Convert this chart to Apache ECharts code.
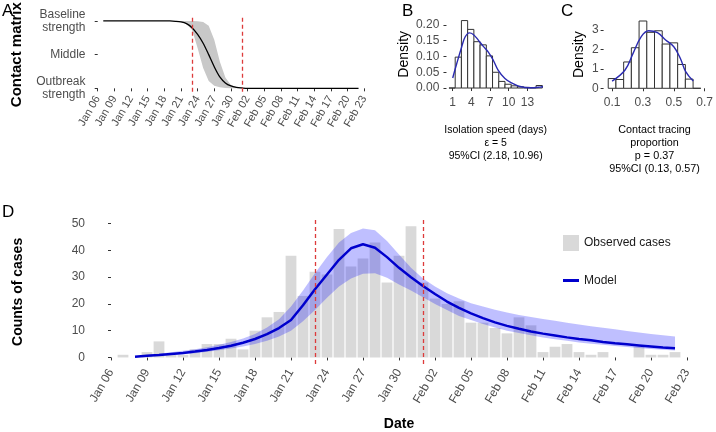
<!DOCTYPE html>
<html><head><meta charset="utf-8">
<script src="https://cdn.jsdelivr.net/npm/echarts@6/dist/echarts.min.js"></script>
<style>html,body{margin:0;padding:0;background:#fff}#c{width:716px;height:432px}</style>
</head><body><div id="c"></div>
<script>
// ---------- data ----------
const tickDates = ['Jan 06','Jan 09','Jan 12','Jan 15','Jan 18','Jan 21','Jan 24','Jan 27','Jan 30','Feb 02','Feb 05','Feb 08','Feb 11','Feb 14','Feb 17','Feb 20','Feb 23'];
const contactLevels = ['Outbreak\nstrength', 'Middle', 'Baseline\nstrength'];
// Panel A: contact matrix per day (day 1 = Jan 07 ... day 47 = Feb 22)
const contactMid = [1,1,1,1,1,1,1,1,1,1,1,1,1,0.995,0.985,0.96,0.9,0.8,0.67,0.5,0.32,0.17,0.08,0.035,0.015,0.006,0,0,0,0,0,0,0,0,0,0,0,0,0,0,0,0,0,0,0,0,0];
const contactLo  = [1,1,1,1,1,1,1,1,1,1,1,1,1,1,0.99,0.95,0.87,0.6,0.3,0.11,0.04,0.015,0.005,0,0,0,0,0,0,0,0,0,0,0,0,0,0,0,0,0,0,0,0,0,0,0,0];
const contactHi  = [1,1,1,1,1,1,1,1,1,1,1,1,1,1,1,1,1,0.995,0.985,0.93,0.72,0.4,0.16,0.05,0.02,0.005,0,0,0,0,0,0,0,0,0,0,0,0,0,0,0,0,0,0,0,0,0];
const interventionDays = [17, 26]; // Jan 23, Feb 01
// Panel B: isolation speed histogram
const isoEdges = [0.4,1.4,2.4,3.4,4.4,5.4,6.4,7.4,8.4,9.4,10.4,11.4,12.4,13.4,14.4,15.4];
const isoDensity = [0,0.098,0.214,0.186,0.147,0.137,0.102,0.05,0.021,0.012,0.007,0.004,0.002,0.001,0.008];
const isoCurveX = [1.0,1.64,2.44,2.97,3.67,4.31,5.11,5.92,6.72,7.52,8.32,9.39,10.47,11.8,13.4,15.0,15.5];
const isoCurveY = [0.032,0.077,0.13,0.161,0.175,0.17,0.152,0.132,0.114,0.088,0.056,0.03,0.016,0.005,0.001,0.003,0.005];
// Panel C: contact tracing proportion histogram
const ctEdges = [0.075,0.125,0.175,0.225,0.275,0.325,0.375,0.425,0.475,0.525,0.575,0.625,0.675];
const ctDensity = [0.5,0.45,1.35,2.08,3.45,2.87,2.95,2.27,2.33,1.22,0.47,0];
const ctCurveX = [0.1,0.184,0.236,0.289,0.337,0.394,0.447,0.5,0.542,0.577,0.626];
const ctCurveY = [0.37,0.94,1.79,2.65,2.95,2.85,2.48,2.13,1.54,0.85,0.37];
// Panel D: observed cases, day 1 (Jan 07) ... day 47 (Feb 22)
const observedCases = [1,0,2,6,1,1,3,5,5,7,3,10,15,17,38,23,32,31,48,34,37,43,28,38,49,28,22,20,21,13,13,11,9,15,12,2,4,5,2,1,2,0,0,4,1,1,2];
// Model, day 2 (Jan 08) ... day 47 (Feb 22)
const modelMid = [0.3,0.6,0.9,1.3,1.7,2.2,2.8,3.5,4.4,5.5,6.9,8.7,11.0,14.0,19.5,25.5,31.0,36.5,40.8,42.3,41.0,37.5,33.5,30.0,26.7,23.7,20.9,18.5,16.5,14.7,13.1,11.8,10.7,9.7,8.9,8.2,7.5,6.9,6.4,5.8,5.3,4.9,4.5,4.1,3.7,3.4];
const modelHi  = [0.5,1.0,1.4,1.9,2.5,3.1,3.8,4.7,5.8,7.1,8.8,11.2,14.3,19.0,25.0,31.5,37.5,43.0,46.5,48.2,47.5,43.5,38.5,33.5,29.5,26.5,24.0,22.0,20.3,19.0,17.8,16.8,15.9,15.1,14.4,13.7,13.0,12.3,11.7,11.1,10.5,9.9,9.3,8.8,8.3,7.8];
const modelLo  = [0.15,0.4,0.6,0.9,1.2,1.6,2.1,2.7,3.3,4.1,5.0,6.2,7.8,10.0,13.5,17.7,22.3,26.5,29.5,31.3,31.5,29.8,27.3,25.0,22.5,20.0,17.7,15.5,14.0,12.5,11.2,10.0,9.1,8.3,7.5,6.8,6.2,5.6,5.1,4.7,4.3,3.9,3.5,3.2,2.9,2.6];
const caseStartDay = 1, modelStartDay = 2;

// ---------- helpers ----------
const FONT = '"Liberation Sans", Arial, sans-serif';
const TXT = '#4d4d4d', TICK = '#333333';
const dateTickValues = tickDates.map((_, i) => i * 3);
const dateLabel = v => tickDates[Math.round(v / 3)];
function bandSeries(xIdx, xs, lo, hi, fill, z) {
  return {
    type: 'custom', xAxisIndex: xIdx, yAxisIndex: xIdx, z: z, silent: true,
    data: [[xs[0], lo[0]]],
    renderItem: function (params, api) {
      const pts = [];
      for (let i = 0; i < xs.length; i++) pts.push(api.coord([xs[i], hi[i]]));
      for (let i = xs.length - 1; i >= 0; i--) pts.push(api.coord([xs[i], lo[i]]));
      return { type: 'polygon', shape: { points: pts }, style: { fill: fill } };
    }
  };
}
function histSeries(idx, edges, dens) {
  return {
    type: 'custom', xAxisIndex: idx, yAxisIndex: idx, silent: true,
    encode: { x: [0, 1], y: 2 },
    data: dens.map((h, i) => [edges[i], edges[i + 1], h]),
    renderItem: function (params, api) {
      const p0 = api.coord([api.value(0), api.value(2)]);
      const p1 = api.coord([api.value(1), 0]);
      return { type: 'rect', shape: { x: p0[0], y: p0[1], width: p1[0] - p0[0], height: p1[1] - p0[1] },
               style: { fill: '#ffffff', stroke: '#333333', lineWidth: 1 } };
    }
  };
}
function axisBase(extra) {
  return Object.assign({
    axisLine: { show: false }, splitLine: { show: false },
    axisTick: { show: true, length: 3, lineStyle: { color: TICK, width: 1 } }
  }, extra);
}
const markLines = {
  silent: true, symbol: 'none', label: { show: false },
  lineStyle: { color: '#dd3b3b', type: [4, 3], width: 1.3 },
  data: interventionDays.map(d => ({ xAxis: d }))
};
const xsA = contactMid.map((_, i) => i + caseStartDay);
const xsModel = modelMid.map((_, i) => i + modelStartDay);

const option = {
  animation: false,
  textStyle: { fontFamily: FONT },
  grid: [
    { left: 90.5, top: 17.6, width: 280.8, height: 74.1 },
    { left: 444.3, top: 17.2, width: 102.7, height: 74.2 },
    { left: 603.6, top: 17.7, width: 104.5, height: 73.9 },
    { left: 90, top: 219.8, width: 618, height: 149.3 }
  ],
  xAxis: [
    axisBase({ type: 'value', gridIndex: 0, min: -1.3, max: 49.3,
      axisTick: { show: true, length: 3, lineStyle: { color: TICK }, customValues: dateTickValues },
      axisLabel: { customValues: dateTickValues, formatter: dateLabel, rotate: 60, fontSize: 11, color: TXT, margin: 5, fontFamily: FONT } }),
    axisBase({ type: 'value', gridIndex: 1, min: -0.35, max: 16.15,
      axisTick: { show: true, length: 3, lineStyle: { color: TICK }, customValues: [1, 4, 7, 10, 13] },
      axisLabel: { customValues: [1, 4, 7, 10, 13], fontSize: 12, color: TXT, margin: 5, fontFamily: FONT },
      name: 'Isolation speed (days)\nε = 5\n95%CI (2.18, 10.96)', nameLocation: 'middle', nameGap: 32,
      nameTextStyle: { fontSize: 10.5, color: '#000', lineHeight: 13, fontFamily: FONT } }),
    axisBase({ type: 'value', gridIndex: 2, min: 0.045, max: 0.705,
      axisTick: { show: true, length: 3, lineStyle: { color: TICK }, customValues: [0.1, 0.3, 0.5, 0.7] },
      axisLabel: { customValues: [0.1, 0.3, 0.5, 0.7], formatter: v => v.toFixed(1), fontSize: 12, color: TXT, margin: 5, fontFamily: FONT },
      name: 'Contact tracing\nproportion\np = 0.37\n95%CI (0.13, 0.57)', nameLocation: 'middle', nameGap: 32,
      nameTextStyle: { fontSize: 10.8, color: '#000', lineHeight: 13, fontFamily: FONT } }),
    axisBase({ type: 'value', gridIndex: 3, min: -1.75, max: 49.75,
      axisTick: { show: true, length: 3, lineStyle: { color: TICK }, customValues: dateTickValues },
      axisLabel: { customValues: dateTickValues, formatter: dateLabel, rotate: 60, fontSize: 12, color: TXT, margin: 6, fontFamily: FONT },
      name: 'Date', nameLocation: 'middle', nameGap: 53,
      nameTextStyle: { fontSize: 14, fontWeight: 'bold', color: '#000', fontFamily: FONT } })
  ],
  yAxis: [
    axisBase({ type: 'value', gridIndex: 0, min: -0.05, max: 1.05,
      axisTick: { show: true, length: 3, lineStyle: { color: TICK }, customValues: [0, 0.5, 1] },
      axisLabel: { customValues: [0, 0.5, 1], formatter: v => contactLevels[Math.round(v * 2)], fontSize: 12, color: TXT, lineHeight: 13, margin: 5, align: 'right', fontFamily: FONT },
      name: 'Contact matrix', nameLocation: 'middle', nameGap: 66,
      nameTextStyle: { fontSize: 15, fontWeight: 'bold', color: '#000', fontFamily: FONT } }),
    axisBase({ type: 'value', gridIndex: 1, min: -0.0107, max: 0.2247,
      axisTick: { show: true, length: 3, lineStyle: { color: TICK }, customValues: [0, 0.05, 0.1, 0.15, 0.2] },
      axisLabel: { customValues: [0, 0.05, 0.1, 0.15, 0.2], formatter: v => v.toFixed(2), fontSize: 12, color: TXT, margin: 5, fontFamily: FONT },
      name: 'Density', nameLocation: 'middle', nameGap: 33,
      nameTextStyle: { fontSize: 14, color: '#000', fontFamily: FONT } }),
    axisBase({ type: 'value', gridIndex: 2, min: -0.17, max: 3.62,
      axisTick: { show: true, length: 3, lineStyle: { color: TICK }, customValues: [0, 1, 2, 3] },
      axisLabel: { customValues: [0, 1, 2, 3], fontSize: 12, color: TXT, margin: 5, fontFamily: FONT },
      name: 'Density', nameLocation: 'middle', nameGap: 17,
      nameTextStyle: { fontSize: 14, color: '#000', fontFamily: FONT } }),
    axisBase({ type: 'value', gridIndex: 3, min: -2.45, max: 51.45,
      axisTick: { show: true, length: 3, lineStyle: { color: TICK }, customValues: [0, 10, 20, 30, 40, 50] },
      axisLabel: { customValues: [0, 10, 20, 30, 40, 50], fontSize: 12, color: TXT, margin: 5, fontFamily: FONT },
      name: 'Counts of cases', nameLocation: 'middle', nameGap: 65,
      nameTextStyle: { fontSize: 14, fontWeight: 'bold', color: '#000', fontFamily: FONT } })
  ],
  legend: [
    { data: [{ name: 'Observed cases', icon: 'rect' }], left: 563, top: 235, itemWidth: 16, itemHeight: 16, padding: 0,
      selectedMode: false, textStyle: { fontSize: 12, color: '#1a1a1a', fontFamily: FONT } },
    { data: [{ name: 'Model', icon: 'rect' }], left: 563, top: 274.5, itemWidth: 16, itemHeight: 3, padding: 0,
      selectedMode: false, textStyle: { fontSize: 12, color: '#1a1a1a', fontFamily: FONT } }
  ],
  series: [
    bandSeries(0, xsA, contactLo, contactHi, '#c8c8c8', 1),
    { type: 'line', xAxisIndex: 0, yAxisIndex: 0, z: 3, symbol: 'none', smooth: 0.3, silent: true,
      data: contactMid.map((v, i) => [xsA[i], v]), lineStyle: { color: '#000', width: 1.3 }, markLine: markLines },
    histSeries(1, isoEdges, isoDensity),
    { type: 'line', xAxisIndex: 1, yAxisIndex: 1, z: 3, symbol: 'none', smooth: 0.4, silent: true,
      data: isoCurveX.map((x, i) => [x, isoCurveY[i]]), lineStyle: { color: '#2a2ab0', width: 1.4 } },
    histSeries(2, ctEdges, ctDensity),
    { type: 'line', xAxisIndex: 2, yAxisIndex: 2, z: 3, symbol: 'none', smooth: 0.4, silent: true,
      data: ctCurveX.map((x, i) => [x, ctCurveY[i]]), lineStyle: { color: '#2a2ab0', width: 1.4 } },
    { type: 'bar', name: 'Observed cases', xAxisIndex: 3, yAxisIndex: 3, z: 1, barWidth: 10.8, silent: true,
      itemStyle: { color: '#d9d9d9' },
      data: observedCases.map((v, i) => [i + caseStartDay, v]) },
    bandSeries(3, xsModel, modelLo, modelHi, 'rgba(0,0,255,0.25)', 2),
    { type: 'line', name: 'Model', xAxisIndex: 3, yAxisIndex: 3, z: 4, symbol: 'none', silent: true,
      itemStyle: { color: '#0000cd' }, lineStyle: { color: '#0000cd', width: 2.5 },
      data: modelMid.map((v, i) => [xsModel[i], v]), markLine: markLines }
  ],
  graphic: [
    { type: 'text', left: 2, top: 3, style: { text: 'A', fontSize: 17, fill: '#000', fontFamily: FONT } },
    { type: 'text', left: 402, top: 3, style: { text: 'B', fontSize: 17, fill: '#000', fontFamily: FONT } },
    { type: 'text', left: 561, top: 3, style: { text: 'C', fontSize: 17, fill: '#000', fontFamily: FONT } },
    { type: 'text', left: 2, top: 204, style: { text: 'D', fontSize: 17, fill: '#000', fontFamily: FONT } }
  ]
};
const chart = echarts.init(document.getElementById('c'), null, { renderer: 'canvas' });
chart.setOption(option);
</script></body></html>
